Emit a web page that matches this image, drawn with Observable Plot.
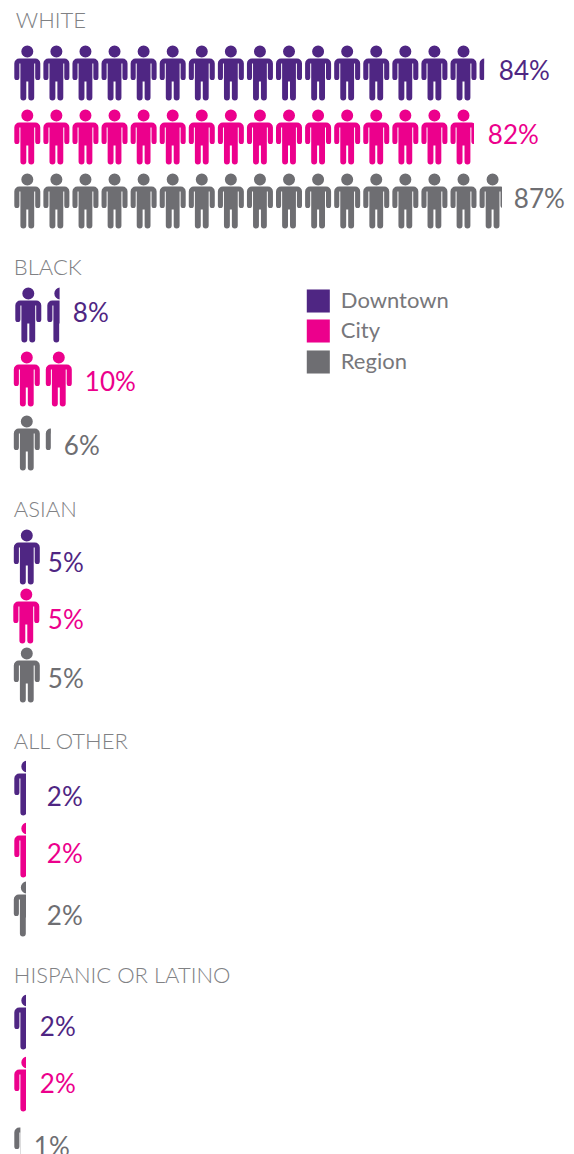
<!DOCTYPE html>
<html>
<head>
<meta charset="utf-8">
<style>html,body{margin:0;padding:0;background:#fff}svg{display:block}</style>
<script src="https://cdn.jsdelivr.net/npm/d3@7"></script>
<script src="https://cdn.jsdelivr.net/npm/@observablehq/plot@0.6"></script>
</head>
<body>
<div id="chart"></div>
<script>
// ---- data ----
const groups = ["WHITE", "BLACK", "ASIAN", "ALL OTHER", "HISPANIC OR LATINO"];
const seriesNames = ["Downtown", "City", "Region"];
const downtown = [84, 8, 5, 2, 2];
const city = [82, 10, 5, 2, 2];
const region = [87, 6, 5, 2, 1];

// ---- layout (pixels) ----
const colors = ["#4f2683", "#ec008c", "#6e6e72"];
const W = 574, H = 1154, originPx = 15, pxPerPct = 5.6;
const toPct = (px) => (px - originPx) / pxPerPct;
const headingX = [16, 14, 14, 14, 14];
const headingY = [28, 275, 517, 749, 983];
const pitch = [29.08, 32, 29, 29, 29];
const rowTop = [[46, 110, 174], [288, 352, 416], [530, 589, 648], [761, 823, 882], [995, 1057, 1115]];
const rowLeft = [[14.5, 14.5, 14.5], [15.5, 14, 14], [14, 13.5, 14], [14.5, 14.5, 14], [14.5, 14.5, 14.5]];
const clipNudge = [[-1, 0, 0], [0, 2, 2.5], [-2, -2, -2], [0, 0, 0], [0, 0, 0]];
const labelX = [[499, 488, 514], [73, 85, 64], [48, 48, 48], [47, 47, 47], [40, 40, 34]];
const labelY = [[80, 144, 208], [322, 391, 455], [572, 629, 688], [806, 863, 925], [1036, 1093, 1156]];
const legendY = [301.5, 331.5, 362.5];

// person glyph: origin at top centre, 26 wide and 55 tall
const person = {
  draw(c) {
    c.moveTo(6, 6); c.arc(0, 6, 6, 0, 2 * Math.PI); c.closePath();
    c.moveTo(-8, 13); c.lineTo(8, 13); c.arcTo(13, 13, 13, 18, 5);
    c.lineTo(13, 32); c.arc(10.45, 32, 2.55, 0, Math.PI);
    c.lineTo(7.9, 18); c.lineTo(6.9, 18); c.lineTo(6.9, 52);
    c.arc(3.95, 52, 2.95, 0, Math.PI);
    c.lineTo(1, 36); c.lineTo(-1, 36); c.lineTo(-1, 52);
    c.arc(-3.95, 52, 2.95, 0, Math.PI);
    c.lineTo(-6.9, 18); c.lineTo(-7.9, 18); c.lineTo(-7.9, 32);
    c.arc(-10.45, 32, 2.55, 0, Math.PI);
    c.lineTo(-13, 18); c.arcTo(-13, 13, -8, 13, 5); c.closePath();
  }
};

const font = "Lato, 'Noto Sans', sans-serif";
const series = [downtown, city, region];
const marks = [];
let clipId = 0;

const clipTo = (value, nudge) => (index, scales, values, dims, ctx, next) => {
  const g = next(index, scales, values, dims, ctx);
  const id = `clip-${clipId++}`;
  const cp = d3.create("svg:clipPath").attr("id", id);
  cp.append("rect").attr("x", 0).attr("y", 0)
    .attr("width", scales.x(value) + nudge).attr("height", H);
  g.prepend(cp.node());
  g.setAttribute("clip-path", `url(#${id})`);
  return g;
};

groups.forEach((group, gi) => {
  marks.push(Plot.text([group], {
    x: () => toPct(headingX[gi]), y: () => headingY[gi], text: (d) => d,
    textAnchor: "start", lineAnchor: "bottom", fontSize: 22, fontWeight: 300,
    fill: "#808184", fontFamily: font
  }));
  series.forEach((values, si) => {
    const value = values[gi];
    const left = rowLeft[gi][si];
    const endPx = originPx + value * pxPerPct + clipNudge[gi][si];
    const count = Math.ceil((endPx - left) / pitch[gi]);
    const icons = d3.range(count).map((i) => ({
      x: toPct(left + 13 + i * pitch[gi]), y: rowTop[gi][si]
    }));
    marks.push(Plot.dot(icons, {
      x: "x", y: "y", r: 1, symbol: person, fill: colors[si], stroke: "none",
      render: clipTo(value, clipNudge[gi][si])
    }));
    marks.push(Plot.text([`${value}%`], {
      x: () => toPct(labelX[gi][si]), y: () => labelY[gi][si], text: (d) => d,
      textAnchor: "start", lineAnchor: "bottom", fontSize: 26, fontWeight: 400,
      fill: colors[si], fontFamily: font
    }));
  });
});

// legend
const legend = seriesNames.map((name, i) => ({name, y: legendY[i], color: colors[i]}));
marks.push(Plot.dot(legend, {
  x: () => toPct(318.5), y: "y", symbol: "square", r: 13, fill: "color", stroke: "none"
}));
marks.push(Plot.text(legend, {
  x: () => toPct(341), y: "y", text: "name", textAnchor: "start",
  fontSize: 22, fill: "#77777b", fontFamily: font
}));

const chart = Plot.plot({
  width: W, height: H,
  marginTop: 0, marginRight: 0, marginBottom: 0, marginLeft: 0,
  x: {type: "linear", domain: [toPct(0), toPct(W)], range: [-0.7, W - 0.7], axis: null},
  y: {type: "linear", domain: [0, H], range: [-1, H - 1], axis: null},
  color: {type: "identity"},
  style: {background: "#fff"},
  marks
});
document.getElementById("chart").append(chart);
</script>
</body>
</html>
